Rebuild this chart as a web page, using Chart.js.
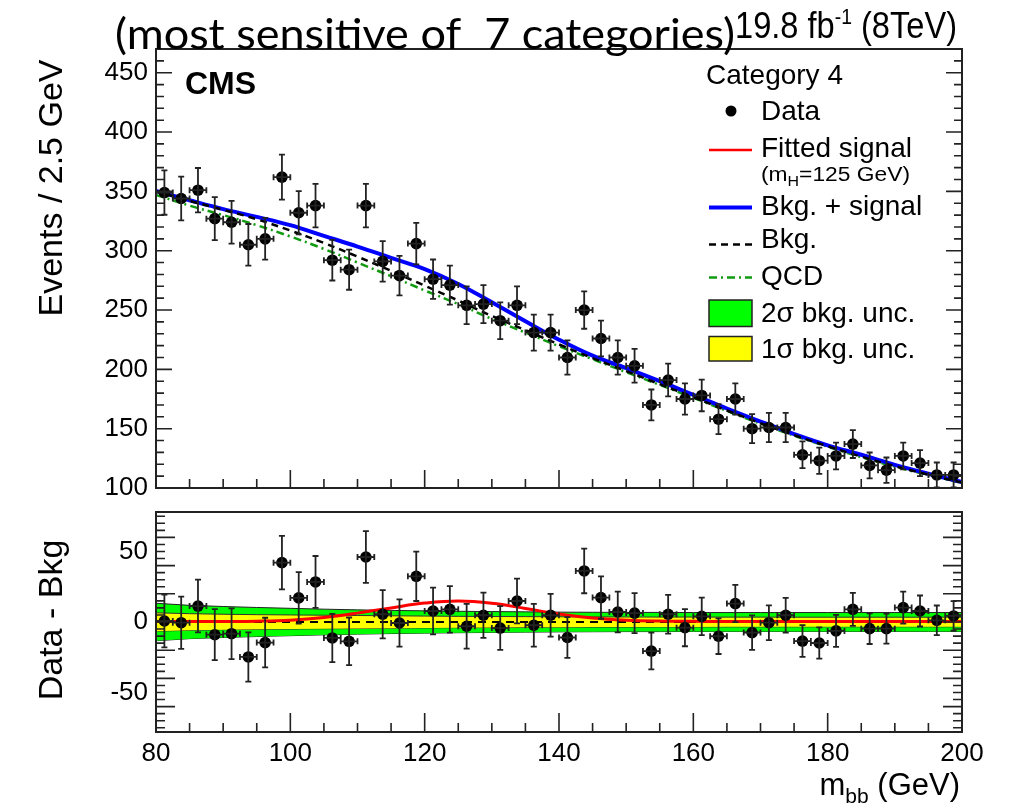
<!DOCTYPE html>
<html>
<head>
<meta charset="utf-8">
<script src="https://cdn.jsdelivr.net/npm/chart.js@4.4.1/dist/chart.umd.min.js"></script>
<style>
  html, body { margin: 0; padding: 0; background: #fff; }
  #wrap { position: relative; width: 1013px; height: 807px; overflow: hidden; }
  #wrap canvas { position: absolute; left: 0; top: 0; }
</style>
</head>
<body>
<div id="wrap">
  <canvas id="upper" width="1013" height="807"></canvas>
  <canvas id="lower" width="1013" height="807"></canvas>
</div>
<script>
// m_bb bin centres (GeV), 2.5 GeV bins
const binCenters = [
  81.25, 83.75, 86.25, 88.75, 91.25, 93.75, 96.25, 98.75, 101.25, 103.75,
  106.25, 108.75, 111.25, 113.75, 116.25, 118.75, 121.25, 123.75, 126.25, 128.75,
  131.25, 133.75, 136.25, 138.75, 141.25, 143.75, 146.25, 148.75, 151.25, 153.75,
  156.25, 158.75, 161.25, 163.75, 166.25, 168.75, 171.25, 173.75, 176.25, 178.75,
  181.25, 183.75, 186.25, 188.75, 191.25, 193.75, 196.25, 198.75
]
const binHalfWidth = 1.25

// events per bin
const dataCounts = [
  349, 344, 351, 327, 324, 305, 310, 362, 332, 338,
  292, 284, 338, 291, 279, 306, 276, 271, 254, 255,
  241, 254, 231, 231, 210, 250, 226, 210, 203, 170,
  191, 175, 178, 158, 175, 150, 151, 151, 128, 123,
  127, 137, 119, 115, 127, 121, 111, 111
]
const dataErrors = [
  18.7, 18.5, 18.7, 18.1, 18.0, 17.5, 17.6, 19.0, 18.2, 18.4,
  17.1, 16.9, 18.4, 17.1, 16.7, 17.5, 16.6, 16.5, 15.9, 16.0,
  15.5, 15.9, 15.2, 15.2, 14.5, 15.8, 15.0, 14.5, 14.2, 13.0,
  13.8, 13.2, 13.3, 12.6, 13.2, 12.2, 12.3, 12.3, 11.3, 11.1,
  11.3, 11.7, 10.9, 10.7, 11.3, 11.0, 10.5, 10.5
]
// data - bkg
const residuals = [
  0.7, -0.5, 11.3, -9.0, -8.3, -24.8, -14.6, 42.1, 17.1, 28.4,
  -11.3, -13.7, 46.1, 5.5, -0.7, 32.4, 7.8, 9.0, -3.0, 4.8,
  -4.3, 14.9, -2.3, 4.8, -11.0, 36.2, 17.3, 7.1, 6.3, -20.6,
  5.5, -4.0, 4.0, -10.1, 13.1, -7.5, -0.5, 4.8, -13.5, -14.9,
  -6.3, 9.0, -4.7, -4.7, 10.2, 7.8, 1.2, 4.3
]

// fitted curves, sampled every 5 GeV
const curveX = [80, 85, 90, 95, 100, 105, 110, 115, 120, 125, 130, 135, 140,
  145, 150, 155, 160, 165, 170, 175, 180, 185, 190, 195, 200]
const bkgCurve = [350, 342, 334.5, 326.5, 317, 306.5, 295, 283, 270.5, 258, 245,
  233, 221, 209.5, 198.5, 187.5, 176.5, 165.3, 154.6, 144.5, 135.2, 126.4, 118.4, 111.2, 104.6]
const bkgSigCurve = [350.3, 342.5, 335, 328.5, 321.5, 312.5, 303.5, 294, 284.5, 272, 256.5,
  240.5, 225, 211.5, 201, 190, 178.5, 167, 156, 145.5, 136, 128, 119.5, 112, 105]
const qcdCurve = [347, 338, 330, 321.5, 312, 301.5, 290, 278.5, 266.5, 255, 242.5,
  231, 219.5, 208.5, 197.7, 186.9, 176, 164.9, 154.2, 144.1, 134.8, 126, 118, 110.9, 104.3]
const signalCurve = [0.3, 0.3, 0.4, 0.6, 1.3, 3.2, 6.3, 10, 13.4, 14.9, 13.3,
  9.6, 5.6, 2.8, 1.3, 0.7, 0.5, 0.4, 0.4, 0.4, 0.4, 0.4, 0.4, 0.4, 0.4]
const band1Sigma = [6.5, 5.9, 5.5, 5.2, 5.0, 4.8, 4.6, 4.4, 4.2, 4.0, 3.9,
  3.8, 3.7, 3.6, 3.55, 3.5, 3.5, 3.45, 3.45, 3.4, 3.4, 3.4, 3.4, 3.4, 3.4]
const band2Sigma = [13.3, 11.8, 11.0, 10.3, 9.7, 9.1, 8.6, 8.2, 7.9, 7.6, 7.4,
  7.2, 7.0, 6.9, 6.8, 6.8, 6.7, 6.7, 6.7, 6.7, 6.7, 6.7, 6.7, 6.7, 6.7]

const FONT = '"Liberation Sans", Arial, Helvetica, sans-serif'
const pts = (xs, ys) => xs.map((x, i) => ({ x, y: ys[i] }))

// ROOT-like frame with inward ticks
const rootFrame = {
  id: 'rootFrame',
  afterDatasetsDraw(chart, args, o) {
    const { ctx, chartArea: a, scales: { x, y } } = chart
    ctx.save()
    ctx.strokeStyle = '#222'
    ctx.lineWidth = 1.6
    ctx.beginPath()
    for (let v = 80; v <= 200; v += 5) {
      const px = x.getPixelForValue(v)
      const len = v % 20 === 0 ? o.xMajor : o.xMinor
      ctx.moveTo(px, a.bottom)
      ctx.lineTo(px, a.bottom - len)
    }
    for (let v = o.yFrom; v <= y.max; v += o.yMinorStep) {
      const py = y.getPixelForValue(v)
      const major = Math.abs((v - o.yMajorRef) % o.yMajorStep) < 1e-6
      const len = major ? o.yMajor : o.yMinor
      ctx.moveTo(a.left, py)
      ctx.lineTo(a.left + len, py)
      ctx.moveTo(a.right, py)
      ctx.lineTo(a.right - len, py)
    }
    ctx.stroke()
    ctx.lineWidth = 2
    ctx.strokeRect(a.left, a.top, a.right - a.left, a.bottom - a.top)
    ctx.restore()
  }
}

const errorBars = {
  id: 'errorBars',
  afterDatasetsDraw(chart) {
    const { ctx, chartArea: a, scales: { x, y } } = chart
    chart.data.datasets.forEach(ds => {
      if (!ds.errors) return
      ctx.save()
      ctx.beginPath()
      ctx.rect(a.left, a.top, a.right - a.left, a.bottom - a.top)
      ctx.clip()
      ctx.strokeStyle = '#222'
      ctx.lineWidth = 1.8
      ctx.beginPath()
      ds.data.forEach((p, i) => {
        const px = x.getPixelForValue(p.x)
        const py = y.getPixelForValue(p.y)
        const x0 = x.getPixelForValue(p.x - binHalfWidth)
        const x1 = x.getPixelForValue(p.x + binHalfWidth)
        const y0 = y.getPixelForValue(p.y - ds.errors[i])
        const y1 = y.getPixelForValue(p.y + ds.errors[i])
        ctx.moveTo(px, y0); ctx.lineTo(px, y1)
        ctx.moveTo(px - 3, y0); ctx.lineTo(px + 3, y0)
        ctx.moveTo(px - 3, y1); ctx.lineTo(px + 3, y1)
        ctx.moveTo(x0, py); ctx.lineTo(x1, py)
        ctx.moveTo(x0, py - 3); ctx.lineTo(x0, py + 3)
        ctx.moveTo(x1, py - 3); ctx.lineTo(x1, py + 3)
      })
      ctx.stroke()
      ctx.restore()
    })
  }
}

function drawRuns(ctx, runs, x, y, family, fitWidth) {
  const widths = runs.map(r => {
    ctx.font = `${r.weight || ''} ${r.size}px ${family}`
    return ctx.measureText(r.t).width
  })
  const total = widths.reduce((s, w) => s + w, 0)
  const sx = fitWidth ? fitWidth / total : 1
  ctx.save()
  ctx.translate(x, y)
  ctx.scale(sx, 1)
  ctx.textBaseline = 'alphabetic'
  ctx.textAlign = 'left'
  let cx = 0
  runs.forEach((r, i) => {
    ctx.font = `${r.weight || ''} ${r.size}px ${family}`
    ctx.fillText(r.t, cx, r.dy || 0)
    cx += widths[i]
  })
  ctx.restore()
  return total * sx
}

const annotations = {
  id: 'annotations',
  afterDraw(chart) {
    const ctx = chart.ctx
    ctx.save()
    ctx.fillStyle = '#000'
    // titles
    drawRuns(ctx, [{ t: '(most sensitive of  7 categories)', size: 42 }], 115, 49,
      '"Gill Sans", "Lato", "Open Sans", sans-serif', 620)
    drawRuns(ctx, [
      { t: '19.8 fb', size: 37 },
      { t: '-1', size: 22, dy: -14 },
      { t: ' (8TeV)', size: 37 }
    ], 735, 38, '"Liberation Sans Narrow", ' + FONT, 222)
    drawRuns(ctx, [{ t: 'CMS', size: 32, weight: 'bold' }], 185, 94, FONT)

    // axis titles
    ctx.font = `34px ${FONT}`
    ctx.textAlign = 'center'
    ctx.textBaseline = 'alphabetic'
    ctx.save(); ctx.translate(62, 188); ctx.rotate(-Math.PI / 2)
    ctx.fillText('Events / 2.5 GeV', 0, 0); ctx.restore()
    ctx.save(); ctx.translate(62, 620); ctx.rotate(-Math.PI / 2)
    ctx.fillText('Data - Bkg', 0, 0); ctx.restore()

    const runsX = [
      { t: 'm', size: 31 }, { t: 'bb', size: 21, dy: 8 }, { t: ' (GeV)', size: 31 }
    ]
    let w = 0
    runsX.forEach(r => { ctx.font = `${r.size}px ${FONT}`; w += ctx.measureText(r.t).width })
    drawRuns(ctx, runsX, 960 - w, 795, FONT)

    // legend
    const lx0 = 709, lx1 = 752, tx = 761, fs = 28
    drawRuns(ctx, [{ t: 'Category 4', size: fs }], 706, 84, FONT)
    ctx.beginPath(); ctx.arc(731, 111, 5.5, 0, Math.PI * 2); ctx.fill()
    drawRuns(ctx, [{ t: 'Data', size: fs }], tx, 120, FONT)

    const legLine = (yy, color, lw, dash) => {
      ctx.save(); ctx.strokeStyle = color; ctx.lineWidth = lw; ctx.setLineDash(dash)
      ctx.beginPath(); ctx.moveTo(lx0, yy); ctx.lineTo(lx1, yy); ctx.stroke(); ctx.restore()
    }
    legLine(150, '#ff0000', 2.5, [])
    drawRuns(ctx, [{ t: 'Fitted signal', size: fs }], tx, 157, FONT)
    drawRuns(ctx, [{ t: '(m', size: 20 }, { t: 'H', size: 14, dy: 5 }, { t: '=125 GeV)', size: 20 }], tx, 181, FONT, 149)
    legLine(207.5, '#0000ff', 4, [])
    drawRuns(ctx, [{ t: 'Bkg. + signal', size: fs }], tx, 215, FONT)
    legLine(244.5, '#000', 2.5, [7, 5])
    drawRuns(ctx, [{ t: 'Bkg.', size: fs }], tx, 248, FONT)
    legLine(277.5, '#109a10', 2.5, [8, 4, 2, 4])
    drawRuns(ctx, [{ t: 'QCD', size: fs }], tx, 285, FONT)

    const legBox = (y0, y1, color) => {
      ctx.save(); ctx.fillStyle = color; ctx.fillRect(lx0, y0, lx1 - lx0, y1 - y0)
      ctx.strokeStyle = '#222'; ctx.lineWidth = 1.5; ctx.strokeRect(lx0, y0, lx1 - lx0, y1 - y0); ctx.restore()
    }
    legBox(300, 326.5, '#00ff00')
    drawRuns(ctx, [{ t: '2\u03c3 bkg. unc.', size: fs }], tx, 321.5, FONT)
    legBox(336.5, 361, '#ffff00')
    drawRuns(ctx, [{ t: '1\u03c3 bkg. unc.', size: fs }], tx, 358, FONT)
    ctx.restore()
  }
}

const tickFont = { family: FONT, size: 26 }

new Chart(document.getElementById('upper'), {
  type: 'line',
  data: {
    datasets: [
      {
        label: 'Data', data: pts(binCenters, dataCounts), errors: dataErrors,
        showLine: false, pointRadius: 5.8, pointBackgroundColor: '#000',
        pointBorderWidth: 0, order: 0
      },
      {
        label: 'Bkg. + signal', data: pts(curveX, bkgSigCurve), borderColor: '#0000ff',
        borderWidth: 4, pointRadius: 0, tension: 0.4, order: 3
      },
      {
        label: 'Bkg.', data: pts(curveX, bkgCurve), borderColor: '#000', borderDash: [7, 5],
        borderWidth: 2.5, pointRadius: 0, tension: 0.4, order: 2
      },
      {
        label: 'QCD', data: pts(curveX, qcdCurve), borderColor: '#109a10', borderDash: [8, 4, 2, 4],
        borderWidth: 2.5, pointRadius: 0, tension: 0.4, order: 4
      }
    ]
  },
  options: {
    responsive: false,
    animation: false,
    layout: { padding: { left: 0, top: 49, right: 51, bottom: 807 - 488 } },
    scales: {
      x: { type: 'linear', min: 80, max: 200, display: false },
      y: {
        type: 'linear', min: 100, max: 470,
        grid: { display: false, drawTicks: false }, border: { display: false },
        ticks: { stepSize: 50, includeBounds: false, font: tickFont, color: '#000', padding: 8 },
        afterFit(s) { s.width = 156 }
      }
    },
    plugins: {
      legend: { display: false },
      tooltip: { enabled: false },
      rootFrame: { xMajor: 18, xMinor: 9, yFrom: 100, yMinorStep: 10, yMajorRef: 100, yMajorStep: 50, yMajor: 16, yMinor: 8 }
    }
  },
  plugins: [errorBars, rootFrame, annotations]
})

new Chart(document.getElementById('lower'), {
  type: 'line',
  data: {
    datasets: [
      {
        label: 'Data', data: pts(binCenters, residuals), errors: dataErrors,
        showLine: false, pointRadius: 5.8, pointBackgroundColor: '#000',
        pointBorderWidth: 0, order: 0
      },
      {
        label: 'Fitted signal', data: pts(curveX, signalCurve), borderColor: '#ff0000',
        borderWidth: 3, pointRadius: 0, tension: 0.4, order: 1
      },
      {
        label: 'Bkg.', data: pts(curveX, curveX.map(() => 0)), borderColor: '#000', borderDash: [8, 6],
        borderWidth: 2, pointRadius: 0, order: 2
      },
      {
        label: '1 sigma up', data: pts(curveX, band1Sigma), borderColor: '#333', borderWidth: 1,
        backgroundColor: '#ffff00', fill: '+1', pointRadius: 0, tension: 0, order: 5
      },
      {
        label: '1 sigma down', data: pts(curveX, band1Sigma.map(v => -v)), borderColor: '#333', borderWidth: 1,
        pointRadius: 0, tension: 0, order: 6
      },
      {
        label: '2 sigma up', data: pts(curveX, band2Sigma), borderColor: '#222', borderWidth: 1,
        backgroundColor: '#00ff00', fill: '+1', pointRadius: 0, tension: 0, order: 7
      },
      {
        label: '2 sigma down', data: pts(curveX, band2Sigma.map(v => -v)), borderColor: '#222', borderWidth: 1,
        pointRadius: 0, tension: 0, order: 8
      }
    ]
  },
  options: {
    responsive: false,
    animation: false,
    layout: { padding: { left: 0, top: 512, right: 51, bottom: 0 } },
    scales: {
      x: {
        type: 'linear', min: 80, max: 200,
        grid: { display: false, drawTicks: false }, border: { display: false },
        ticks: { stepSize: 20, font: tickFont, color: '#000', padding: 6, autoSkip: false, maxRotation: 0 },
        afterFit(s) { s.height = 75 }
      },
      y: {
        type: 'linear', min: -78, max: 78,
        grid: { display: false, drawTicks: false }, border: { display: false },
        ticks: { stepSize: 50, includeBounds: false, font: tickFont, color: '#000', padding: 8 },
        afterFit(s) { s.width = 156 }
      }
    },
    plugins: {
      legend: { display: false },
      tooltip: { enabled: false },
      filler: { drawTime: 'beforeDatasetDraw' },
      rootFrame: { xMajor: 19, xMinor: 9, yFrom: -75, yMinorStep: 5, yMajorRef: 0, yMajorStep: 20, yMajor: 19, yMinor: 9 }
    }
  },
  plugins: [errorBars, rootFrame]
})
</script>
</body>
</html>
